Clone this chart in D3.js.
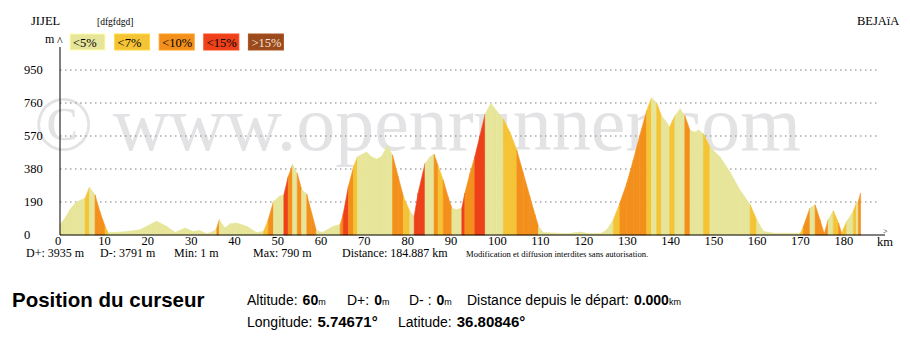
<!DOCTYPE html>
<html>
<head>
<meta charset="utf-8">
<script src="https://cdn.jsdelivr.net/npm/d3@7"></script>
<style>
  body { margin: 0; background: #fff; }
  svg { display: block; }
</style>
</head>
<body>
<div id="chart"></div>
<script>

//profile points (distance in km, altitude in m)
const distKm = [0, 1, 2.3, 3.5, 4.6, 5.8, 6.8, 8.1, 9.2, 10.4, 11.1, 13, 15.4, 18.5, 20, 22.3, 24.6, 26.6, 28.9, 30.7,
  32.2, 33.9, 35.4, 36.2, 36.8, 37.5, 38.1, 39.3, 40.8, 43.1, 45.4, 47, 48.1, 49.3, 50.8, 51.7, 52.7, 53.7, 54.8, 55.8,
  57, 58.1, 59.2, 60.6, 63.1, 64.7, 65.4, 66.6, 67.8, 68.7, 70.8, 71.9, 73.1, 74.2, 75.6, 76.8, 78.1, 79.3, 80.8, 81.8,
  82.7, 84.3, 85.5, 86.4, 87.3, 88.5, 89.6, 90.5, 91.6, 92.8, 93.5, 94.7, 95.8, 97, 98.2, 99.5, 100.8, 102.4, 103.9, 105.5,
  107, 108.5, 109.7, 110.5, 111.6, 117, 120.1, 122.4, 125, 126.3, 127.8, 129.3, 130.9, 132.4, 133.9, 135.5, 136.6, 137.8, 138.9, 140.1,
  140.8, 142, 143.2, 144.3, 145.5, 146.7, 147.4, 148.6, 150.1, 152.4, 154.7, 157, 159.4, 160.9, 162.5, 165, 171, 171.7, 173.2, 174.4,
  175.5, 176.5, 177.4, 178.6, 179.8, 180.5, 181.7, 183.2, 183.9, 184.4, 184.887];
const altitude = [60, 90, 145, 184, 199, 212, 275, 231, 136, 50, 14, 15, 20, 30, 50, 79, 50, 15, 40, 20,
  26, 7, 20, 40, 88, 60, 40, 65, 69, 50, 14, 20, 88, 193, 225, 231, 335, 405, 355, 262,
  235, 128, 25, 15, 50, 60, 120, 279, 393, 450, 478, 450, 437, 450, 512, 460, 336, 222, 136, 107,
  241, 412, 450, 465, 400, 317, 222, 155, 146, 155, 241, 355, 450, 573, 697, 758, 716, 668, 592, 488,
  355, 222, 117, 50, 15, 7, 17, 7, 10, 30, 88, 184, 298, 431, 573, 716, 790, 760, 687, 649,
  620, 687, 726, 687, 602, 592, 605, 583, 507, 450, 364, 260, 174, 88, 20, 10, 10, 50, 155, 174,
  88, 7, 88, 140, 69, 10, 79, 136, 184, 195, 241];

const yTicks = [0, 190, 380, 570, 760, 950];
const xTicks = [0, 10, 20, 30, 40, 50, 60, 70, 80, 90, 100, 110, 120, 130, 140, 150, 160, 170, 180];
const legendLabels = ["<5%", "<7%", "<10%", "<15%", ">15%"];
const gradeLimits = [5, 7, 10, 15];
const statLabels = ["D+: 3935 m", "D-: 3791 m", "Min: 1 m", "Max: 790 m", "Distance: 184.887 km"];

const gradeColors = ["#e6e59a", "#f5c436", "#f3901c", "#ee4119", "#9a4a1c"];
const serif = "'Liberation Serif', 'Times New Roman', serif";
const sans = "'Liberation Sans', Arial, sans-serif";

const width = 910;
const height = 345;

const svg = d3.select("#chart")
  .append("svg")
  .attr("width", width)
  .attr("height", height);

svg.append("rect")
  .attr("width", width)
  .attr("height", height)
  .attr("fill", "#fff");

const x = d3.scaleLinear()
  .domain([0, 190])
  .range([60, 60 + 190 * 4.33]);

const y = d3.scaleLinear()
  .domain([0, 950])
  .range([235, 70]);

const points = distKm.map((d, i) => ({ km: d, ele: altitude[i] }));

//grade class of one segment between two points
function gradeClass(a, b) {
  const g = Math.abs(b.ele - a.ele) / ((b.km - a.km) * 1000) * 100;
  let k = 0;
  while (k < gradeLimits.length && g >= gradeLimits[k]) k++;
  return k;
}

//watermark behind everything
svg.append("text")
  .attr("x", 34)
  .attr("y", 150)
  .attr("font-family", serif)
  .attr("font-size", "78px")
  .attr("fill", "#e3e3e5")
  .text("© www.openrunner.com");

//dotted grid lines
svg.selectAll(".grid")
  .data(yTicks.filter(d => d > 0))
  .join("line")
  .attr("class", "grid")
  .attr("x1", x(0))
  .attr("x2", 878)
  .attr("y1", d => y(d))
  .attr("y2", d => y(d))
  .attr("stroke", "#a8a8a8")
  .attr("stroke-width", 1.3)
  .attr("stroke-dasharray", "1.5,3.5");

//profile drawn segment by segment, coloured by grade
const area = d3.area()
  .x(d => x(d.km))
  .y0(y(0))
  .y1(d => y(d.ele));

const segments = d3.pairs(points);

svg.append("g")
  .selectAll("path")
  .data(segments)
  .join("path")
  .attr("d", d => area(d))
  .attr("fill", d => gradeColors[gradeClass(d[0], d[1])])
  .attr("stroke", d => gradeColors[gradeClass(d[0], d[1])])
  .attr("stroke-width", 0.6);

//axes
svg.append("line")
  .attr("x1", x(0)).attr("x2", x(0))
  .attr("y1", 47).attr("y2", y(0))
  .attr("stroke", "#000");

svg.append("line")
  .attr("x1", x(0)).attr("x2", 885)
  .attr("y1", y(0)).attr("y2", y(0))
  .attr("stroke", "#000");

svg.append("text")
  .attr("x", 45).attr("y", 43)
  .attr("font-family", serif).attr("font-size", "12px")
  .text("m");

svg.append("text")
  .attr("x", 57).attr("y", 45)
  .attr("font-family", serif).attr("font-size", "12px")
  .text("^");

svg.append("text")
  .attr("x", 883).attr("y", 234)
  .attr("font-family", serif).attr("font-size", "8px")
  .text(">");

svg.append("text")
  .attr("x", 877).attr("y", 246)
  .attr("font-family", serif).attr("font-size", "12.5px")
  .text("km");

svg.selectAll(".ylab")
  .data(yTicks)
  .join("text")
  .attr("class", "ylab")
  .attr("x", 24)
  .attr("y", d => y(d) + 4)
  .attr("font-family", serif)
  .attr("font-size", "12.5px")
  .text(d => d);

svg.selectAll(".xlab")
  .data(xTicks)
  .join("text")
  .attr("class", "xlab")
  .attr("x", d => x(d) - 5)
  .attr("y", 245)
  .attr("font-family", serif)
  .attr("font-size", "12.5px")
  .text(d => d);

//header texts
svg.append("text")
  .attr("x", 31).attr("y", 25)
  .attr("font-family", serif).attr("font-size", "12.5px")
  .text("JIJEL");

svg.append("text")
  .attr("x", 97).attr("y", 25)
  .attr("font-family", serif).attr("font-size", "9.5px")
  .text("[dfgfdgd]");

svg.append("text")
  .attr("x", 857).attr("y", 25)
  .attr("font-family", serif).attr("font-size", "12.5px")
  .text("BEJAïA");

//legend boxes
const legend = svg.selectAll(".legend")
  .data(legendLabels)
  .join("g")
  .attr("class", "legend")
  .attr("transform", (d, i) => `translate(${70 + i * 44.6},34)`);

legend.append("rect")
  .attr("width", 35)
  .attr("height", 16)
  .attr("fill", (d, i) => gradeColors[i])
  .attr("stroke", (d, i) => d3.color(gradeColors[i]).brighter(0.3))
  .attr("stroke-width", 1);

legend.append("text")
  .attr("x", 3)
  .attr("y", 12.5)
  .attr("font-family", serif)
  .attr("font-size", "12.5px")
  .attr("fill", (d, i) => i === 4 ? "#f4e6da" : "#000")
  .text(d => d);

//summary line under the chart
const statX = [26, 100, 174, 253, 342];
svg.selectAll(".stat")
  .data(statLabels)
  .join("text")
  .attr("class", "stat")
  .attr("x", (d, i) => statX[i])
  .attr("y", 257)
  .attr("font-family", serif)
  .attr("font-size", "12px")
  .text(d => d);

svg.append("text")
  .attr("x", 466).attr("y", 257)
  .attr("font-family", serif).attr("font-size", "8.6px")
  .text("Modification et diffusion interdites sans autorisation.");

//cursor position block
svg.append("text")
  .attr("x", 12).attr("y", 307)
  .attr("font-family", sans).attr("font-size", "20.5px")
  .attr("font-weight", "bold")
  .text("Position du curseur");

//one label, its bold value and a small unit, flowing left to right
function infoPiece(xPos, yPos, label, value, unit, valueSize) {
  const t = svg.append("text")
    .attr("x", xPos).attr("y", yPos)
    .attr("font-family", sans)
    .attr("font-size", "14px");

  t.append("tspan").text(label);
  t.append("tspan")
    .attr("dx", 5)
    .attr("font-weight", "bold")
    .attr("font-size", valueSize + "px")
    .text(value);
  if (unit) {
    t.append("tspan")
      .attr("font-size", "9px")
      .text(unit);
  }
}

infoPiece(247, 305, "Altitude:", "60", "m", 14);
infoPiece(347, 305, "D+:", "0", "m", 14);
infoPiece(409, 305, "D- :", "0", "m", 14);
infoPiece(467, 305, "Distance depuis le départ:", "0.000", "km", 14);

infoPiece(247, 327, "Longitude:", "5.74671°", "", 15);
infoPiece(398, 327, "Latitude:", "36.80846°", "", 15);

</script>
</body>
</html>
